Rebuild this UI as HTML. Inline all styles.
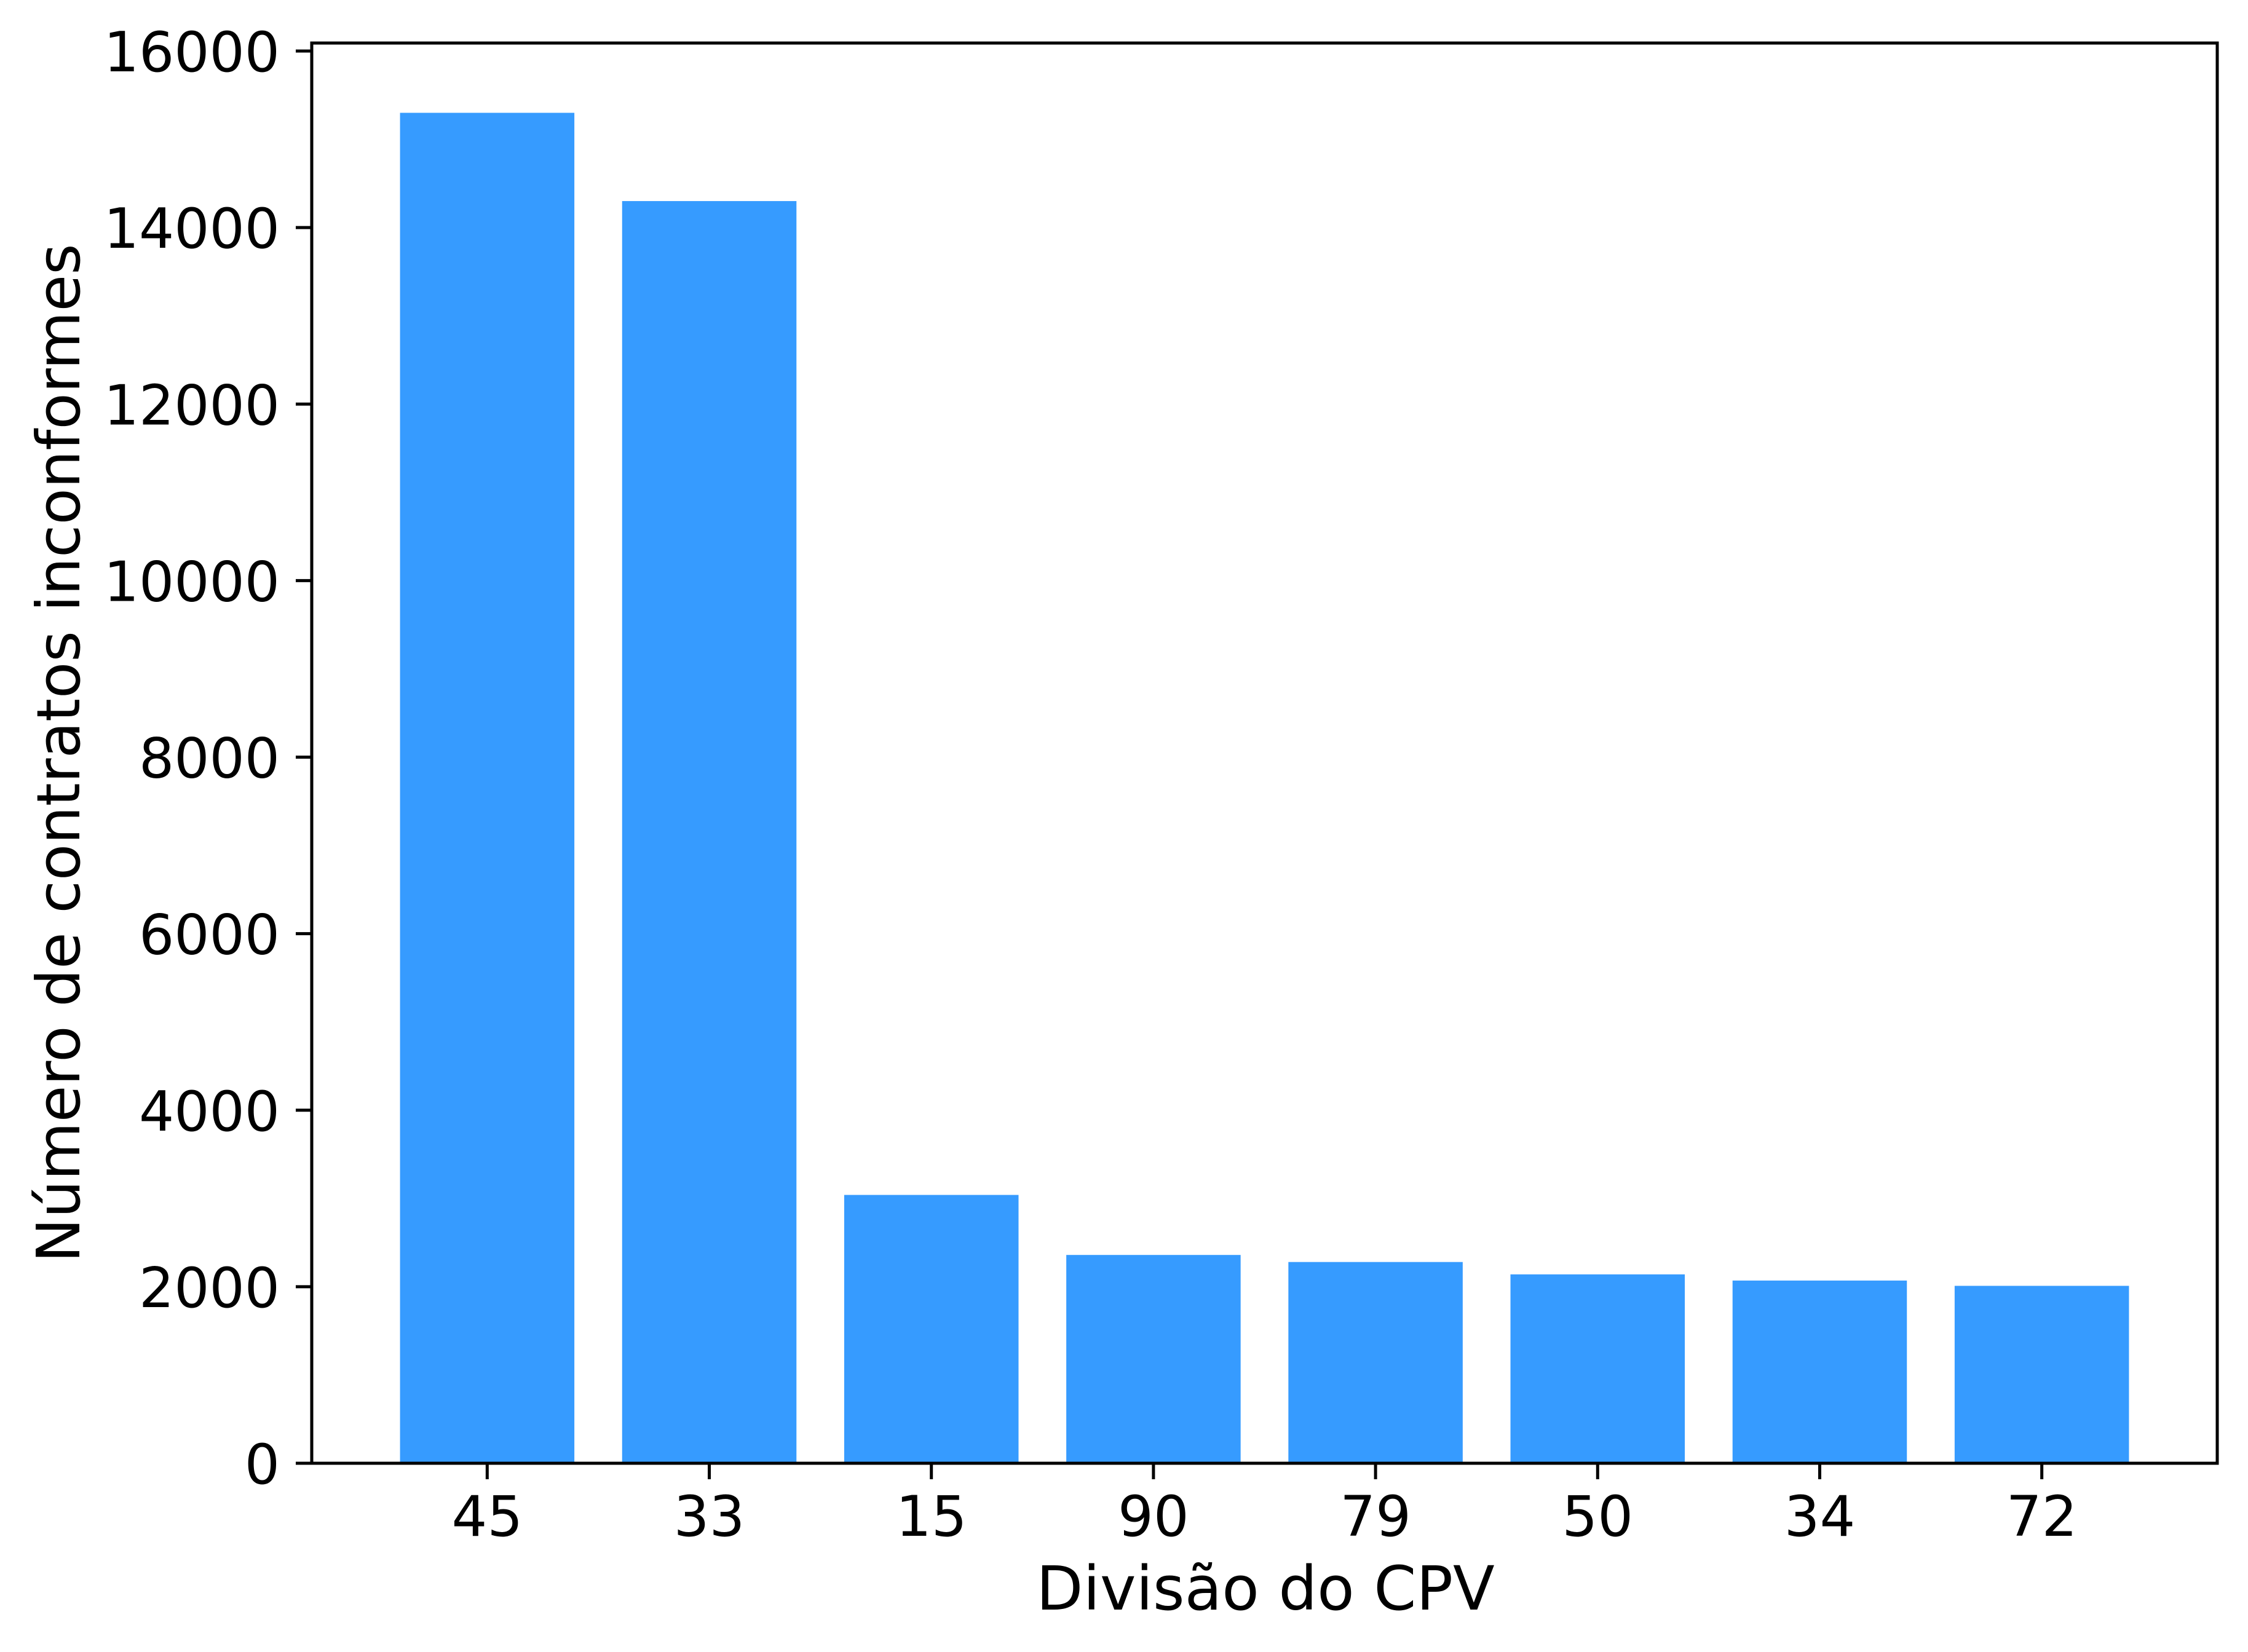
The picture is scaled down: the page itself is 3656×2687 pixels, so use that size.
<!DOCTYPE html>
<html><head><meta charset="utf-8"><style>html,body{margin:0;padding:0;background:#fff}svg{display:block}</style></head>
<body>
<svg id="chart" width="3656" height="2687" viewBox="0 0 3656 2687" xmlns="http://www.w3.org/2000/svg" font-family="'DejaVu Sans','Liberation Sans',sans-serif">
<rect width="3656" height="2687" fill="#fff"/>
<g id="bars"></g>
<g id="axes"></g>
<text x="2058" y="2618" font-size="99" text-anchor="middle">Divisão do CPV</text>
<text transform="translate(129,1225) rotate(-90)" font-size="97" text-anchor="middle">Número de contratos inconformes</text>
</svg>
<script>
const categories = ["45","33","15","90","79","50","34","72"];
const values = [15300, 14300, 3040, 2360, 2280, 2140, 2070, 2010];
const yTicks = [0, 2000, 4000, 6000, 8000, 10000, 12000, 14000, 16000];

const L = 507, R = 3606, T = 70, B = 2380;
const NS = "http://www.w3.org/2000/svg";
const xmin = -0.79, xmax = categories.length - 1 + 0.79;
function xs(i){ return L + (i - xmin) / (xmax - xmin) * (R - L); }
function ys(v){ return B - v / 16000 * (B - 83); }
function mk(tag, attrs, parent){ const e = document.createElementNS(NS, tag); for (const k in attrs) e.setAttribute(k, attrs[k]); parent.appendChild(e); return e; }
const bars = document.getElementById('bars');
const axes = document.getElementById('axes');
const unit = (R - L) / (xmax - xmin);
values.forEach((v, i) => {
  const w = 0.785 * unit;
  const r = mk('rect', {x: xs(i) - w/2, y: ys(v), width: w, height: B - ys(v), fill: '#369bff'}, bars);
  
  
});
categories.forEach((c, i) => {
  const t = mk('line', {x1: xs(i), x2: xs(i), y1: B, y2: B + 26, stroke: '#000', 'stroke-width': 5}, axes);
  
  
  const lb = mk('text', {x: xs(i), y: 2498, 'font-size': 91, 'text-anchor': 'middle'}, axes);
  lb.textContent = c;
  
  
});
yTicks.forEach(v => {
  const t = mk('line', {x1: L - 26, x2: L, y1: ys(v), y2: ys(v), stroke: '#000', 'stroke-width': 5}, axes);
  
  
  const lb = mk('text', {x: 455, y: ys(v) + 33, 'font-size': 90, 'text-anchor': 'end'}, axes);
  lb.textContent = v;
  
  
});
const frame = mk('rect', {x: L, y: T, width: R - L, height: B - T, fill: 'none', stroke: '#000', 'stroke-width': 5}, axes);


</script>
</body></html>
